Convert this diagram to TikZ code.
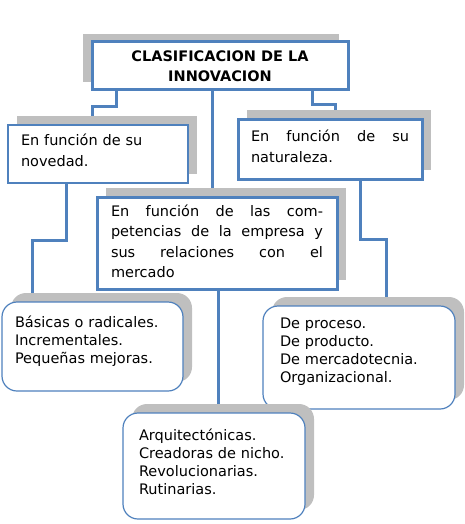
\documentclass[tikz,border=0pt]{standalone}
\usepackage{fontspec}
\setmainfont{DejaVu Sans}
\usetikzlibrary{shadows, backgrounds}
\definecolor{ofblue}{RGB}{79,129,189}

\begin{document}
\begin{tikzpicture}[x=1pt, y=-1pt,
  sh/.style={drop shadow={shadow xshift=9pt, shadow yshift=9pt, fill=black!25, opacity=1}},
  sq/.style={draw=ofblue, line width=3pt, fill=white, inner ysep=4pt, align=justify,
    font=\fontsize{14.5}{20.5}\selectfont},
  rd/.style={draw=ofblue, line width=1.2pt, fill=white, rounded corners=15pt, align=left,
    font=\fontsize{14.5}{18}\selectfont, sh},
  conn/.style={draw=ofblue, line width=3pt}]
\useasboundingbox (0,0) rectangle (465,524);
\node[sq, align=center, font=\fontsize{14.5}{20}\selectfont\bfseries, minimum width=256, minimum height=48,
  drop shadow={shadow xshift=-9pt, shadow yshift=8pt, fill=black!25, opacity=1}] (c0) at (220,66) {CLASIFICACION DE LA\\INNOVACION};
\node[sq, sh, line width=1.2pt, align=left, text width=154, inner xsep=13, minimum height=58] (c1) at (98,154) {En función de su\\novedad.\par\kern7pt};
\node[sq, sh, text width=158, inner xsep=13, minimum height=60] (c3) at (330,149) {En función de su\linebreak naturaleza.\par\kern5pt};
\node[sq, sh, text width=212, inner xsep=14, minimum height=92] (c2) at (217,243) {En función de las com-\linebreak petencias de la empresa y\linebreak sus relaciones con el\linebreak mercado\par\kern3pt};
\node[rd, text width=155, inner xsep=13, minimum height=89] (b1) at (92.5,346.5) {Básicas o radicales.\\Incrementales.\\Pequeñas mejoras.\par\kern10pt};
\node[rd, text width=158, inner xsep=17, minimum height=103] (b2) at (359,357.5) {De proceso.\\De producto.\\De mercadotecnia.\\Organizacional.\par\kern12pt};
\node[rd, text width=150, inner xsep=16, minimum height=106] (b3) at (214,466) {Arquitectónicas.\\Creadoras de nicho.\\Revolucionarias.\\Rutinarias.\par\kern9pt};
% Connectors
\begin{scope}[on background layer]
\draw[conn] (c0.south -| 116,0) |- (92,107) -- (c1.north -| 92,0);
\draw[conn] (c0.south -| 212,0) -- (c2.north -| 212,0);
\draw[conn] (c0.south -| 312,0) |- (335,105) -- (c3.north -| 335,0);
\draw[conn] (c1.south -| 66,0) |- (32,240) -- (b1.north -| 32,0);
\draw[conn] (c3.south -| 360,0) |- (386,239) -- (b2.north -| 386,0);
\draw[conn] (c2.south -| 218,0) -- (b3.north -| 218,0);
\end{scope}
\end{tikzpicture}
\end{document}
